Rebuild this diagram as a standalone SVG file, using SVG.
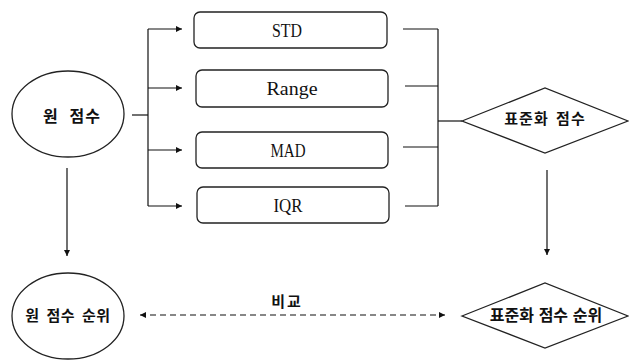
<svg xmlns="http://www.w3.org/2000/svg" width="629" height="360" viewBox="0 0 629 360">
  <style>
    .shape { fill: #ffffff; stroke: #222222; stroke-width: 1.3; }
    .wire { fill: none; stroke: #111111; stroke-width: 1.2; }
    .dash { stroke-dasharray: 6 4; }
    .latin { font-family: "Liberation Serif", "DejaVu Serif", serif; font-size: 18px; fill: #111111; }
    .kor { font-family: "Noto Sans CJK KR", "Noto Sans", sans-serif; font-size: 15px; font-weight: bold; fill: #111111; word-spacing: 3px; letter-spacing: 1px; }
    .kor16 { font-size: 16px; }
  </style>
  <defs>
    <marker id="head" markerUnits="userSpaceOnUse" markerWidth="8" markerHeight="8" refX="6" refY="3" orient="auto">
      <path d="M0,0 L6,3 L0,6 Z" fill="#111111"/>
    </marker>
    <marker id="tail" markerUnits="userSpaceOnUse" markerWidth="8" markerHeight="8" refX="0" refY="3" orient="auto">
      <path d="M6,0 L0,3 L6,6 Z" fill="#111111"/>
    </marker>
  </defs>

  <g id="connectors">
    <!-- fan-out from raw score to the four methods -->
    <path class="wire" d="M132,115 H148"/>
    <path class="wire" d="M148,29 V206"/>
    <path class="wire" d="M148,29 H182" marker-end="url(#head)"/>
    <path class="wire" d="M148,88 H182" marker-end="url(#head)"/>
    <path class="wire" d="M148,150 H182" marker-end="url(#head)"/>
    <path class="wire" d="M148,206 H182" marker-end="url(#head)"/>
    <!-- fan-in to standardized score -->
    <path class="wire" d="M403,29 H438"/>
    <path class="wire" d="M405,86 H438"/>
    <path class="wire" d="M403,147 H438"/>
    <path class="wire" d="M405,206 H438"/>
    <path class="wire" d="M438,29 V206"/>
    <path class="wire" d="M438,121 H462"/>
    <!-- ranking arrows -->
    <path class="wire" d="M67,168 V256" marker-end="url(#head)"/>
    <path class="wire" d="M547,170 V255" marker-end="url(#head)"/>
    <!-- comparison -->
    <path class="wire dash" d="M140,315 H445" marker-start="url(#tail)" marker-end="url(#head)"/>
    <text class="kor" x="287" y="307" text-anchor="middle" style="letter-spacing:2px">비교</text>
  </g>

  <g id="raw-score">
    <ellipse class="shape" cx="68" cy="114" rx="56" ry="43"/>
    <text class="kor kor16" x="72" y="122" text-anchor="middle" style="word-spacing:6px">원 점수</text>
  </g>

  <g id="std">
    <rect class="shape" x="194" y="12" width="193" height="36" rx="6"/>
    <text class="latin" x="287" y="37" text-anchor="middle" textLength="30" lengthAdjust="spacingAndGlyphs">STD</text>
  </g>

  <g id="range">
    <rect class="shape" x="196" y="70" width="192" height="37" rx="6"/>
    <text class="latin" x="292" y="95" text-anchor="middle" textLength="51" lengthAdjust="spacingAndGlyphs">Range</text>
  </g>

  <g id="mad">
    <rect class="shape" x="196" y="132" width="192" height="36" rx="6"/>
    <text class="latin" x="288" y="157" text-anchor="middle" textLength="35" lengthAdjust="spacingAndGlyphs">MAD</text>
  </g>

  <g id="iqr">
    <rect class="shape" x="197" y="187" width="192" height="36" rx="6"/>
    <text class="latin" x="288" y="212" text-anchor="middle" textLength="29" lengthAdjust="spacingAndGlyphs">IQR</text>
  </g>

  <g id="standardized-score">
    <polygon class="shape" points="462,121 545,88 628,121 545,153"/>
    <text class="kor" x="545" y="124" text-anchor="middle">표준화 점수</text>
  </g>

  <g id="raw-rank">
    <ellipse class="shape" cx="68" cy="316" rx="56" ry="43"/>
    <text class="kor" x="68" y="321" text-anchor="middle" style="letter-spacing:0.5px">원 점수 순위</text>
  </g>

  <g id="standardized-rank">
    <polygon class="shape" points="462,316 545,283 628,316 545,348"/>
    <text class="kor kor16" x="546" y="321" text-anchor="middle" style="word-spacing:1px;letter-spacing:0">표준화 점수 순위</text>
  </g>
</svg>
